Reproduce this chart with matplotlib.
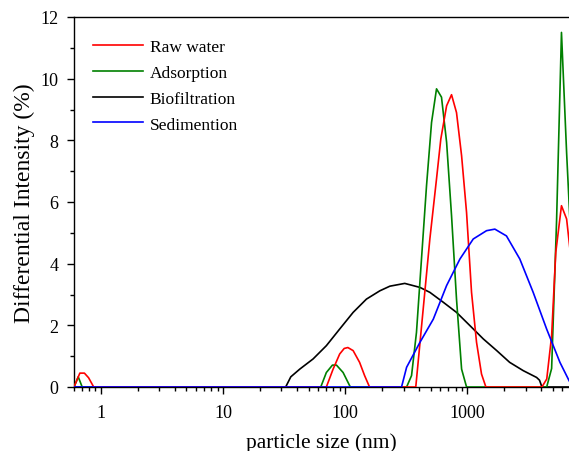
import numpy as np
import matplotlib
matplotlib.use("Agg")
import matplotlib.pyplot as plt
from matplotlib.ticker import LogLocator, MultipleLocator, NullFormatter, FixedFormatter, FixedLocator

plt.rcParams["font.family"] = ["Liberation Serif", "DejaVu Serif"]

# particle size (nm) / differential intensity (%)
raw_size = [0.6, 0.67, 0.73, 0.79, 0.87, 70, 79.5, 90, 98, 105, 116, 131, 144, 158,
            378, 493, 559, 606, 676, 742, 815, 897, 985, 1082, 1189, 1306, 1418,
            4080, 4470, 4900, 5300, 5900, 6500, 7000]
raw_int = [0, 0.45, 0.45, 0.3, 0, 0, 0.58, 1.07, 1.25, 1.28, 1.18, 0.8, 0.37, 0,
           0, 4.8, 6.75, 8.04, 9.12, 9.48, 8.9, 7.5, 5.66, 3.07, 1.45, 0.42, 0,
           0, 0.26, 1.66, 4.37, 5.88, 5.45, 4.3]

ads_size = [0.6, 0.65, 0.7, 63, 70, 78.5, 84.7, 96, 110,
            318, 349, 383, 421, 463, 509, 559, 614, 676, 742, 815, 897, 985,
            4465, 4900, 5380, 5900, 6500, 7000]
ads_int = [0, 0.33, 0, 0, 0.47, 0.71, 0.71, 0.47, 0,
           0, 0.37, 1.77, 4.15, 6.53, 8.58, 9.67, 9.4, 7.94, 5.56, 2.85, 0.58, 0,
           0, 0.6, 5.4, 11.5, 7.6, 5.0]

bio_size = [0.6, 32.5, 35.8, 42.4, 54.5, 70, 90, 116, 149, 192, 232, 307, 409, 493,
            634, 815, 1050, 1350, 1740, 2220, 2870, 3690, 3900, 4080, 7000]
bio_int = [0, 0, 0.33, 0.58, 0.91, 1.34, 1.88, 2.42, 2.85, 3.12, 3.27, 3.36, 3.23, 3.07,
           2.75, 2.42, 1.99, 1.56, 1.18, 0.8, 0.53, 0.31, 0.22, 0, 0]

sed_size = [0.6, 289, 318, 409, 526, 676, 869, 1117, 1436, 1680, 2090, 2690, 3460,
            4460, 5730, 6820, 7200]
sed_int = [0, 0, 0.64, 1.45, 2.2, 3.29, 4.15, 4.8, 5.07, 5.12, 4.9, 4.15, 3.07,
           1.88, 0.8, 0.2, 0.05]

fig = plt.figure(figsize=(5.69, 4.52), dpi=100)
ax = fig.add_axes([74 / 569, 64 / 452, 1 - 74 / 569, 370 / 452])

lw = 1.2
l_bio, = ax.plot(bio_size, bio_int, color="black", lw=lw, label="Biofiltration", zorder=2)
l_ads, = ax.plot(ads_size, ads_int, color="#008000", lw=lw, label="Adsorption", zorder=3)
l_raw, = ax.plot(raw_size, raw_int, color="#ff0000", lw=lw, label="Raw water", zorder=4)
l_sed, = ax.plot(sed_size, sed_int, color="#0000ff", lw=lw, label="Sedimention", zorder=5)

ax.set_xscale("log")
ax.set_xlim(0.6, 6800)
ax.set_ylim(0, 12)

ax.xaxis.set_major_locator(FixedLocator([1, 10, 100, 1000]))
ax.xaxis.set_major_formatter(FixedFormatter(["1", "10", "100", "1000"]))
ax.xaxis.set_minor_locator(LogLocator(base=10, subs=np.arange(2, 10)))
ax.xaxis.set_minor_formatter(NullFormatter())
ax.yaxis.set_major_locator(MultipleLocator(2))
ax.yaxis.set_minor_locator(MultipleLocator(1))

ax.tick_params(which="major", direction="out", length=5, width=1, labelsize=13)
ax.tick_params(which="minor", direction="out", length=3, width=1)
ax.tick_params(axis="x", which="major", pad=7)
ax.tick_params(axis="y", which="major", pad=6)
ax.spines["right"].set_visible(False)
for s in ("left", "bottom", "top"):
    ax.spines[s].set_linewidth(1.0)

ax.set_xlabel("particle size (nm)", fontsize=15.5, labelpad=8)
ax.set_ylabel("Differential Intensity (%)", fontsize=17, labelpad=4)

ax.legend(handles=[l_raw, l_ads, l_bio, l_sed], loc="upper left", frameon=False,
          fontsize=12.5, handlelength=2.9, handletextpad=0.4, labelspacing=0.55,
          bbox_to_anchor=(0.006, 0.982))

fig.savefig("out.png", dpi=100)
